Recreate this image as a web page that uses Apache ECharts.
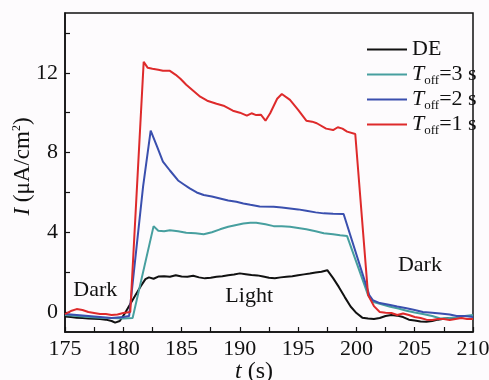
<!DOCTYPE html>
<html>
<head>
<meta charset="utf-8">
<script src="https://cdn.jsdelivr.net/npm/echarts@6/dist/echarts.min.js"></script>
<style>
html,body{margin:0;padding:0;background:#fdfbfd;}
#chart{width:489px;height:380px;}
</style>
</head>
<body>
<div id="chart"></div>
<script>
// ---- data ----
const tDE = [175,175.5,176,176.5,177,177.5,178,178.5,179,179.3,179.7,180.1,180.5,181,181.5,181.9,182.2,182.6,183,183.5,184,184.5,185,185.5,186,186.5,187,187.5,188,188.5,189,189.5,190,190.5,191,191.5,192,192.5,193,193.5,194,194.5,195,195.5,196,196.5,197,197.5,198,198.5,199,199.5,200,200.5,201,201.5,202,202.5,203,203.5,204,204.5,205,205.5,206,206.5,207,207.5,208,208.5];
const iDE = [-0.22,-0.25,-0.28,-0.3,-0.32,-0.33,-0.35,-0.38,-0.45,-0.53,-0.45,-0.1,0.3,0.8,1.3,1.65,1.74,1.67,1.78,1.8,1.77,1.85,1.78,1.77,1.82,1.74,1.69,1.72,1.77,1.8,1.85,1.88,1.94,1.9,1.86,1.84,1.78,1.72,1.7,1.74,1.77,1.8,1.85,1.89,1.93,1.98,2.02,2.1,1.7,1.25,0.75,0.28,-0.05,-0.28,-0.32,-0.35,-0.3,-0.2,-0.15,-0.18,-0.25,-0.38,-0.42,-0.47,-0.49,-0.45,-0.38,-0.34,-0.3,-0.3];

const t3 = [175,176,177,178,179,180,180.8,182.6,183,183.5,184,184.7,185.4,186.2,186.9,187.6,188.3,189,189.7,190.3,190.9,191.4,192.2,192.9,193.6,194.3,195,195.7,196.5,197.2,198,198.6,199.2,201.0,201.4,202,202.9,203.6,204.3,205,205.7,206.5,207.2,207.9,208.6,209.3,210];
const i3 = [-0.15,-0.2,-0.25,-0.28,-0.3,-0.32,-0.3,4.31,4.08,4.05,4.1,4.05,3.98,3.95,3.9,4.0,4.15,4.28,4.37,4.44,4.48,4.48,4.4,4.31,4.3,4.28,4.22,4.15,4.05,3.95,3.9,3.85,3.81,0.85,0.52,0.42,0.27,0.18,0.07,-0.02,-0.1,-0.2,-0.32,-0.3,-0.27,-0.2,-0.15];

const t2 = [175,176,177,178,179,180,180.5,181.7,182.35,182.9,183.4,184,184.7,185.2,185.7,186.3,186.9,187.6,188.3,189,189.7,190.3,190.9,191.7,192.9,193.6,194.3,195,195.7,196.5,197.2,198,198.9,201.1,201.4,202,202.9,203.5,204.3,205,205.7,206.5,207.2,208,208.6,209.3,210];
const i2 = [-0.1,-0.15,-0.2,-0.25,-0.3,-0.25,-0.2,6.3,9.1,8.3,7.55,7.1,6.6,6.4,6.2,6.0,5.87,5.8,5.7,5.6,5.53,5.45,5.38,5.3,5.28,5.25,5.2,5.15,5.08,5.0,4.95,4.93,4.92,0.85,0.6,0.45,0.35,0.28,0.19,0.1,0.0,-0.03,-0.07,-0.12,-0.2,-0.2,-0.25];

const t1 = [175,175.5,176,176.5,177,177.5,178,178.5,179,179.5,180,180.6,181.75,182.1,182.5,183,183.4,184,184.5,184.9,185.4,186,186.6,187.2,188,188.6,189.4,190,190.6,191,191.4,191.8,192.2,192.6,193.2,193.6,194.3,195,195.7,196.2,196.6,197.4,198,198.4,198.8,199.2,199.9,200.05,201,201.5,202,202.5,203,203.5,204,204.5,205,205.5,206,206.5,207,207.5,208,208.5,209,209.5,210];
const i1 = [-0.1,0.05,0.15,0.1,0.0,-0.05,-0.1,-0.1,-0.15,-0.12,-0.05,0.0,12.55,12.25,12.2,12.15,12.1,12.1,11.9,11.7,11.4,11.1,10.8,10.6,10.45,10.35,10.1,10.0,9.85,9.97,9.88,9.9,9.6,9.97,10.7,10.94,10.64,10.14,9.6,9.55,9.47,9.2,9.13,9.27,9.2,9.05,8.93,8.9,0.85,0.3,0.0,-0.03,-0.05,-0.15,-0.07,-0.15,-0.25,-0.3,-0.38,-0.4,-0.35,-0.35,-0.4,-0.35,-0.3,-0.35,-0.35];

const seriesNames = ['DE','Toff=3 s','Toff=2 s','Toff=1 s'];
const xLabelValues = [175,180,185,190,195,200,205,210];
const xTickValues = [175,177.5,180,182.5,185,187.5,190,192.5,195,197.5,200,202.5,205,207.5,210];
const yLabelValues = [0,4,8,12];
const yTickValues = [0,2,4,6,8,10,12,14];
const notes = [[177.6,1.1,'Dark'],[190.8,0.8,'Light'],[205.45,2.36,'Dark']];

// ---- build ----
const zip = (a,b) => a.map((v,k)=>[v,b[k]]);
const FONT = 'Liberation Serif, Times New Roman, serif';
const colors = ['#111111','#479f9f','#3a4fae','#de2a2b'];
const dataSets = [zip(tDE,iDE), zip(t3,i3), zip(t2,i2), zip(t1,i1)];

const chart = echarts.init(document.getElementById('chart'));
chart.setOption({
  backgroundColor:'#fdfbfd',
  animation:false,
  grid:{left:65,right:16,top:13,bottom:48,containLabel:false,outerBoundsMode:'none',
        show:true,borderColor:'#111',borderWidth:1.5,backgroundColor:'transparent'},
  legend:{
    data:seriesNames,
    orient:'vertical', left:362, top:32, itemWidth:40, itemHeight:2, itemGap:0,
    icon:'rect',
    textStyle:{fontFamily:FONT,fontSize:22,color:'#111',lineHeight:25,
      rich:{
        i:{fontFamily:FONT,fontSize:22,fontStyle:'italic',color:'#111',lineHeight:25},
        sub:{fontFamily:FONT,fontSize:13,color:'#111',lineHeight:15,verticalAlign:'bottom'},
        n:{fontFamily:FONT,fontSize:22,color:'#111',lineHeight:25}
      }},
    formatter:function(name){
      if(name.indexOf('Toff')===0){ return '{i|T}{sub|off}{n|'+name.slice(4)+'}'; }
      return name;
    }
  },
  xAxis:{
    type:'value', min:175, max:210,
    name:'{i|t}{n| (s)}', nameLocation:'middle', nameGap:28, nameMoveOverlap:false,
    nameTextStyle:{padding:[0,30,0,0],rich:{
      i:{fontFamily:FONT,fontSize:24,fontStyle:'italic',color:'#111'},
      n:{fontFamily:FONT,fontSize:24,color:'#111'}}},
    axisLine:{onZero:false,lineStyle:{color:'#111',width:1.5}},
    axisTick:{inside:true,length:5,customValues:xTickValues,lineStyle:{color:'#111',width:1.2}},
    axisLabel:{customValues:xLabelValues,fontFamily:FONT,fontSize:22,color:'#111',margin:6},
    splitLine:{show:false}
  },
  yAxis:{
    type:'value', min:-1, max:15,
    name:'{i|I}{n| (μA/cm}{sup|2}{n|)}', nameLocation:'middle', nameGap:31, nameRotate:90, nameMoveOverlap:false,
    nameTextStyle:{padding:[0,0,0,12],rich:{
      i:{fontFamily:FONT,fontSize:23,fontStyle:'italic',color:'#111'},
      n:{fontFamily:FONT,fontSize:23,color:'#111'},
      sup:{fontFamily:FONT,fontSize:12,color:'#111',verticalAlign:'top',lineHeight:14}}},
    axisLine:{onZero:false,lineStyle:{color:'#111',width:1.5}},
    axisTick:{inside:true,length:5,customValues:yTickValues,lineStyle:{color:'#111',width:1.2}},
    axisLabel:{customValues:yLabelValues,fontFamily:FONT,fontSize:22,color:'#111',margin:7},
    splitLine:{show:false}
  },
  series: seriesNames.map((nm,k)=>({
    name:nm, type:'line', data:dataSets[k], symbol:'none', showSymbol:false,
    lineStyle:{color:colors[k],width:2}, itemStyle:{color:colors[k]}, z:2+k
  })).concat([{
    name:'notes', type:'scatter', data:notes, symbolSize:1, silent:true,
    itemStyle:{color:'#111',opacity:0},
    label:{show:true,position:'inside',formatter:p=>p.value[2],fontFamily:FONT,fontSize:22,
           color:'#111',opacity:1,textBorderWidth:0}
  }])
});
</script>
</body>
</html>
